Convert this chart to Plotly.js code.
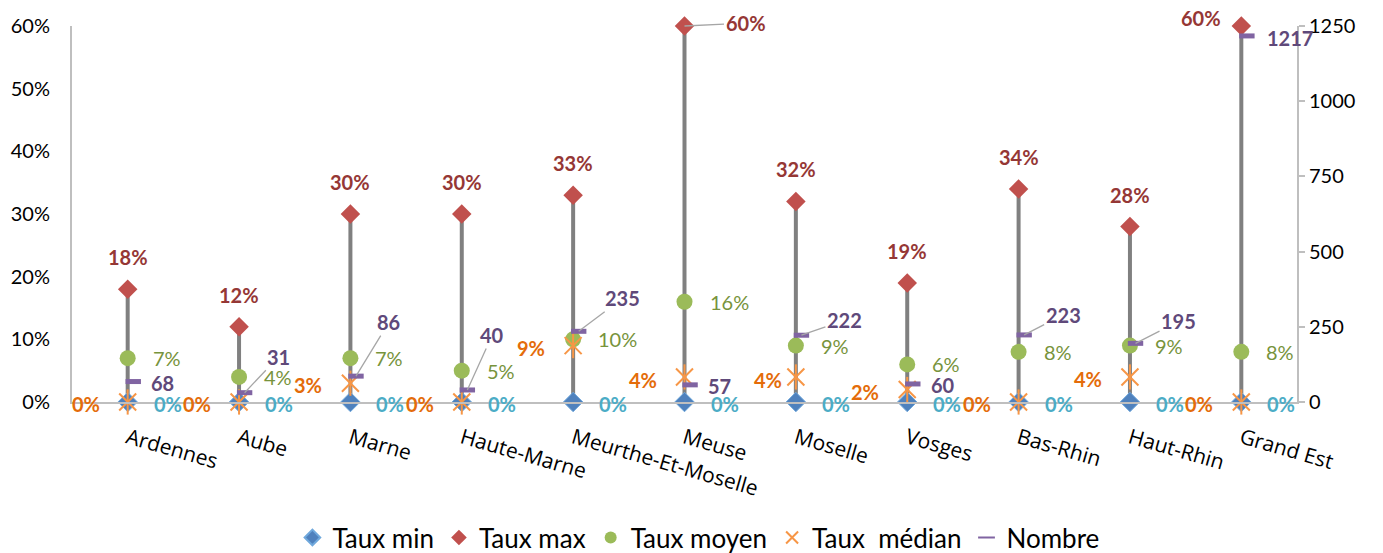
<!DOCTYPE html>
<html>
<head>
<meta charset="utf-8">
<script src="https://cdn.plot.ly/plotly-3.0.1.min.js"></script>
<style>
  html, body { margin: 0; padding: 0; background: #ffffff; }
  #chart { width: 1383px; height: 553px; }
</style>
</head>
<body>
<div id="chart"></div>
<script>
// Départements and regional total
const categories = ['Ardennes', 'Aube', 'Marne', 'Haute-Marne', 'Meurthe-Et-Moselle', 'Meuse',
                    'Moselle', 'Vosges', 'Bas-Rhin', 'Haut-Rhin', 'Grand Est'];

// Rates (fractions, shown as %)
const tauxMin    = [0, 0, 0, 0, 0, 0, 0, 0, 0, 0, 0];
const tauxMax    = [0.18, 0.12, 0.30, 0.30, 0.33, 0.60, 0.32, 0.19, 0.34, 0.28, 0.60];
const tauxMoyen  = [0.07, 0.04, 0.07, 0.05, 0.10, 0.16, 0.09, 0.06, 0.08, 0.09, 0.08];
const tauxMedian = [0, 0, 0.03, 0, 0.09, 0.04, 0.04, 0.02, 0, 0.04, 0];

// Counts (right axis)
const nombre = [68, 31, 86, 40, 235, 57, 222, 60, 223, 195, 1217];

// Axis ticks
const pctTicks = [0, 0.1, 0.2, 0.3, 0.4, 0.5, 0.6];
const pctTickText = ['0%', '10%', '20%', '30%', '40%', '50%', '60%'];
const countTicks = [0, 250, 500, 750, 1000, 1250];

// ---- styling ----
const LABEL_FONT = 'Lato, "Open Sans", sans-serif';
const AXIS_FONT = '"Open Sans", Lato, sans-serif';
const C = {
  min: '#4F81BD', minLabel: '#4BACC6',
  max: '#C0504D', maxLabel: '#953735',
  moy: '#9BBB59', moyLabel: '#77933C',
  med: '#F79646', medLabel: '#E46C0A',
  nb: '#8064A2', nbLabel: '#5F497A',
  hilo: '#808080', axis: '#BFBFBF', leader: '#A6A6A6'
};
const DASH_SHIFT = 0.05; // count dash sits just right of the category line

const idx = categories.map((_, i) => i);

// vertical high-low bars from min to max
const hiloX = [], hiloY = [];
idx.forEach(i => { hiloX.push(i, i, null); hiloY.push(tauxMin[i], tauxMax[i], null); });

const traces = [
  { x: hiloX, y: hiloY, mode: 'lines', line: { color: C.hilo, width: 4 },
    showlegend: false, hoverinfo: 'skip', cliponaxis: false },
  { x: idx, y: tauxMin, name: 'Taux min', mode: 'markers', cliponaxis: false,
    marker: { symbol: 'diamond', size: 15, color: C.min, line: { color: '#6FA8DC', width: 1 } } },
  { x: idx, y: tauxMax, name: 'Taux max', mode: 'markers', cliponaxis: false,
    marker: { symbol: 'diamond', size: 15, color: C.max } },
  { x: idx, y: tauxMoyen, name: 'Taux moyen', mode: 'markers', cliponaxis: false,
    marker: { symbol: 'circle', size: 16, color: C.moy } },
  { x: idx, y: tauxMedian, name: 'Taux  médian', mode: 'markers', cliponaxis: false,
    legendgroup: 'med',
    marker: { symbol: 'x-thin-open', size: 17, color: C.med, line: { color: C.med, width: 2 } } },
  { x: idx, y: tauxMedian, mode: 'markers', cliponaxis: false, legendgroup: 'med',
    showlegend: false, hoverinfo: 'skip',
    marker: { symbol: 'line-ns-open', size: 18, color: C.med, line: { color: C.med, width: 2 } } },
  { x: idx.map(i => i + DASH_SHIFT), y: nombre, yaxis: 'y2', name: 'Nombre', mode: 'markers',
    cliponaxis: false,
    marker: { symbol: 'line-ew-open', size: 11, color: C.nb, line: { color: C.nb, width: 5 } } }
];

// ---- data labels ----
const pct = v => Math.round(v * 100) + '%';

function labelSet(xs, ys, yref, texts, font, base, overrides) {
  return xs.map((x, i) => {
    const o = Object.assign({}, base, overrides[i] || {});
    const a = { x: x, y: ys[i], xref: 'x', yref: yref, text: texts[i], font: font };
    if (o.leader) {
      Object.assign(a, { showarrow: true, axref: 'pixel', ayref: 'pixel', ax: o.dx, ay: o.dy,
        arrowhead: 0, arrowwidth: 1.3, arrowcolor: C.leader, standoff: 0, startstandoff: 0,
        xanchor: 'center', yanchor: 'middle' });
    } else {
      Object.assign(a, { showarrow: false, xanchor: o.anchor, yanchor: 'middle',
        xshift: o.dx, yshift: -o.dy });
    }
    return a;
  });
}

const boldFont = (color) => ({ family: LABEL_FONT, size: 20, color: color, weight: 'bold' });
const plainFont = (color) => ({ family: LABEL_FONT, size: 20, color: color });

const annotations = [].concat(
  labelSet(idx, tauxMax, 'y', tauxMax.map(pct), boldFont(C.maxLabel),
    { anchor: 'center', dx: 0, dy: -32 },
    { 5: { dx: 61, dy: -3, leader: true }, 10: { dx: -40, dy: -8 } }),
  labelSet(idx, tauxMoyen, 'y', tauxMoyen.map(pct), plainFont(C.moyLabel),
    { anchor: 'left', dx: 23, dy: 0 }, {}),
  labelSet(idx, tauxMin, 'y', tauxMin.map(pct), boldFont(C.minLabel),
    { anchor: 'left', dx: 24, dy: 2 }, {}),
  labelSet(idx, tauxMedian, 'y', tauxMedian.map(pct), boldFont(C.medLabel),
    { anchor: 'right', dx: -26, dy: 2 },
    { 6: { dx: -12, dy: 3 }, 7: { dy: 3 }, 5: { dy: 3 } }),
  labelSet(idx.map(i => i + DASH_SHIFT), nombre, 'y2', nombre.map(String), boldFont(C.nbLabel),
    { anchor: 'left', dx: 16, dy: 1 },
    {
      1: { dx: 34, dy: -36, leader: true },
      2: { dx: 33, dy: -54, leader: true },
      3: { dx: 25, dy: -55, leader: true },
      4: { dx: 44, dy: -33, leader: true },
      6: { dx: 43, dy: -15, leader: true },
      8: { dx: 39, dy: -20, leader: true },
      9: { dx: 43, dy: -22, leader: true },
      10: { dx: 18, dy: 2 }
    })
);

const layout = {
  width: 1383, height: 553,
  margin: { l: 72, r: 86, t: 26, b: 151, autoexpand: false },
  paper_bgcolor: '#ffffff', plot_bgcolor: '#ffffff',
  showlegend: true,
  legend: {
    orientation: 'h', x: 0.505, xanchor: 'center', xref: 'container',
    y: -0.298, yanchor: 'top',
    font: { family: LABEL_FONT, size: 26, color: '#000000' },
    itemsizing: 'constant', traceorder: 'normal', bgcolor: 'rgba(0,0,0,0)'
  },
  xaxis: {
    range: [-0.5, 10.5], tickmode: 'array', tickvals: idx, ticktext: categories,
    tickangle: 16, ticks: '', ticklabelstandoff: 14, automargin: false,
    tickfont: { family: AXIS_FONT, size: 21, color: '#000000' },
    showline: true, linecolor: C.axis, linewidth: 2, showgrid: false, zeroline: false,
    fixedrange: true
  },
  yaxis: {
    range: [0, 0.6], tickmode: 'array', tickvals: pctTicks, ticktext: pctTickText,
    ticks: '', ticklabelstandoff: 16, automargin: false,
    tickfont: { family: LABEL_FONT, size: 20, color: '#000000' },
    showline: true, linecolor: C.axis, linewidth: 2, showgrid: false, zeroline: false
  },
  yaxis2: {
    range: [0, 1250], tickmode: 'array', tickvals: countTicks, overlaying: 'y', side: 'right',
    ticks: 'outside', ticklen: 6, tickcolor: C.axis, tickwidth: 2, automargin: false,
    tickfont: { family: LABEL_FONT, size: 20, color: '#000000' },
    showline: true, linecolor: C.axis, linewidth: 2, showgrid: false, zeroline: false
  },
  annotations: annotations
};

Plotly.newPlot('chart', traces, layout, { displayModeBar: false, staticPlot: true });
</script>
</body>
</html>
